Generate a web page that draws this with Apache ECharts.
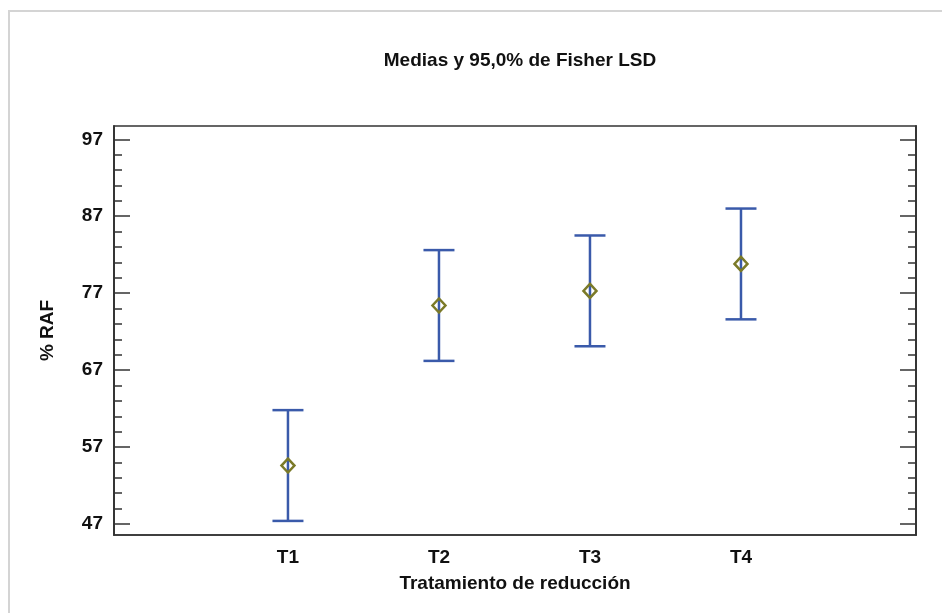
<!DOCTYPE html>
<html>
<head>
<meta charset="utf-8">
<script src="https://cdn.jsdelivr.net/npm/echarts@6/dist/echarts.min.js"></script>
<style>
  html, body { margin: 0; padding: 0; background: #fff; }
  #chart { width: 942px; height: 613px; }
</style>
</head>
<body>
<div id="chart"></div>
<script>
// Treatments and their means with 95% Fisher LSD intervals
const categories = ['T1', 'T2', 'T3', 'T4'];
const means = [54.6, 75.4, 77.3, 80.8];
const lower = [47.4, 68.2, 70.1, 73.6];
const upper = [61.8, 82.6, 84.5, 88.0];
const yMajorTicks = [47, 57, 67, 77, 87, 97];
const yMinorTicks = [49, 51, 53, 55, 59, 61, 63, 65, 69, 71, 73, 75, 79, 81, 83, 85, 89, 91, 93, 95];

const FONT = '"Liberation Sans", Arial, sans-serif';
const FONT_SIZE = 19;
const AXIS_COLOR = '#333';
const BAR_COLOR = '#3a5aaa';
const MEAN_COLOR = '#7b7a28';

const positions = categories.map((c, i) => i + 1);
const intervalData = categories.map((c, i) => [positions[i], lower[i], upper[i], means[i]]);

function yAxisBase(position, ticks, len, showLabel) {
  return {
    type: 'value',
    position: position,
    offset: 0,
    min: 45.57,
    max: 98.73,
    axisLine: { show: true, onZero: false, lineStyle: { color: AXIS_COLOR, width: 1.5 } },
    axisTick: { show: true, inside: true, length: len, customValues: ticks,
                lineStyle: { color: AXIS_COLOR, width: 1.5 } },
    axisLabel: { show: showLabel, customValues: ticks, margin: 11,
                 fontFamily: FONT, fontWeight: 'bold', fontSize: FONT_SIZE, color: '#111' },
    splitLine: { show: false }
  };
}

const chart = echarts.init(document.getElementById('chart'));
const yLeft = yAxisBase('left', yMajorTicks, 16, true);
yLeft.name = '% RAF';
yLeft.nameLocation = 'middle';
yLeft.nameGap = 57;
yLeft.nameTextStyle = { fontFamily: FONT, fontWeight: 'bold', fontSize: FONT_SIZE, color: '#111' };

chart.setOption({
  animation: false,
  backgroundColor: '#fff',
  title: {
    text: 'Medias y 95,0% de Fisher LSD',
    left: 515, top: 46, textAlign: 'center',
    textStyle: { fontFamily: FONT, fontWeight: 'bold', fontSize: FONT_SIZE, color: '#111' }
  },
  graphic: [{
    type: 'rect', silent: true,
    shape: { x: 9, y: 11, width: 1200, height: 1200 },
    style: { fill: 'none', stroke: '#d4d4d4', lineWidth: 2 }
  }],
  grid: { left: 114, right: 26, top: 126, bottom: 78, show: true,
          borderColor: AXIS_COLOR, borderWidth: 1.5, backgroundColor: 'transparent' },
  xAxis: {
    type: 'value', min: -0.152, max: 5.159,
    axisLine: { show: true, onZero: false, lineStyle: { color: AXIS_COLOR, width: 1.5 } },
    axisTick: { show: false },
    splitLine: { show: false },
    axisLabel: {
      customValues: positions, margin: 13,
      formatter: v => categories[Math.round(v) - 1] || '',
      fontFamily: FONT, fontWeight: 'bold', fontSize: FONT_SIZE, color: '#111'
    },
    name: 'Tratamiento de reducción', nameLocation: 'middle', nameGap: 39,
    nameTextStyle: { fontFamily: FONT, fontWeight: 'bold', fontSize: FONT_SIZE, color: '#111' }
  },
  yAxis: [
    yLeft,
    yAxisBase('left', yMinorTicks, 8, false),
    yAxisBase('right', yMajorTicks, 16, false),
    yAxisBase('right', yMinorTicks, 8, false)
  ],
  series: [{
    type: 'custom',
    data: intervalData,
    encode: { x: 0, y: [1, 2, 3] },
    renderItem: function (params, api) {
      const x = api.value(0);
      const lo = api.coord([x, api.value(1)]);
      const hi = api.coord([x, api.value(2)]);
      const m = api.coord([x, api.value(3)]);
      const capHalf = 15.5;
      const lineStyle = { stroke: BAR_COLOR, lineWidth: 2.5, fill: 'none' };
      const dw = 6.5, dh = 7;
      return {
        type: 'group',
        children: [
          { type: 'line', shape: { x1: lo[0], y1: lo[1], x2: hi[0], y2: hi[1] }, style: lineStyle },
          { type: 'line', shape: { x1: hi[0] - capHalf, y1: hi[1], x2: hi[0] + capHalf, y2: hi[1] }, style: lineStyle },
          { type: 'line', shape: { x1: lo[0] - capHalf, y1: lo[1], x2: lo[0] + capHalf, y2: lo[1] }, style: lineStyle },
          { type: 'polygon',
            shape: { points: [[m[0], m[1] - dh], [m[0] + dw, m[1]], [m[0], m[1] + dh], [m[0] - dw, m[1]]] },
            style: { fill: 'none', stroke: MEAN_COLOR, lineWidth: 2.5 } }
        ]
      };
    }
  }]
});
</script>
</body>
</html>
